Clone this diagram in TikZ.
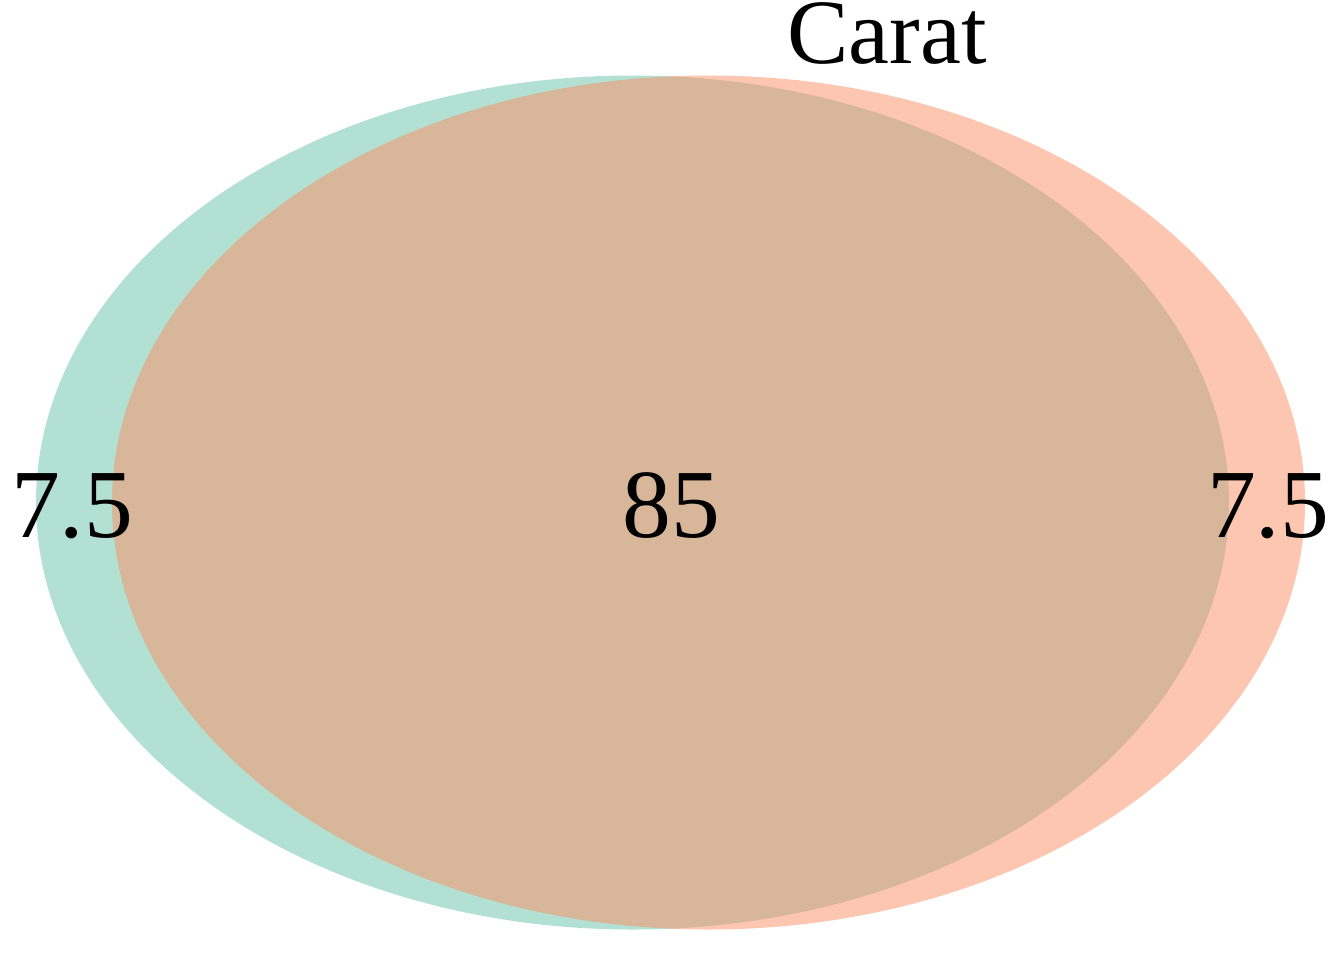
\documentclass[tikz,border=0pt]{standalone}
\usepackage{fontspec}
\setmainfont{Liberation Serif}
\usepackage{tikz}
\definecolor{mygreen}{RGB}{102,194,165}
\definecolor{mysalmon}{RGB}{252,141,98}
\tikzset{
  setfill/.style={fill opacity=0.5},
  countlabel/.style={anchor=base, inner sep=0pt, font=\fontsize{48.8}{58}\selectfont},
  setlabel/.style={anchor=base, inner sep=0pt, font=\fontsize{46}{55}\selectfont}
}
\begin{document}
\begin{tikzpicture}[x=0.5pt, y=-0.5pt]
  \useasboundingbox (0,0) rectangle (1344,960);

  % Two overlapping sets
  \fill[setfill, mygreen] (632.5,502.5) ellipse [x radius=596.5, y radius=427];
  \fill[setfill, mysalmon] (708.5,502.5) ellipse [x radius=596.5, y radius=427];

  % Set name
  \node[setlabel] (carat) at (887,63) {Carat};

  % Region counts
  \node[countlabel] (leftonly) at (72,537) {7.5};
  \node[countlabel] (both) at (671,537) {85};
  \node[countlabel] (rightonly) at (1268,537) {7.5};
\end{tikzpicture}
\end{document}
